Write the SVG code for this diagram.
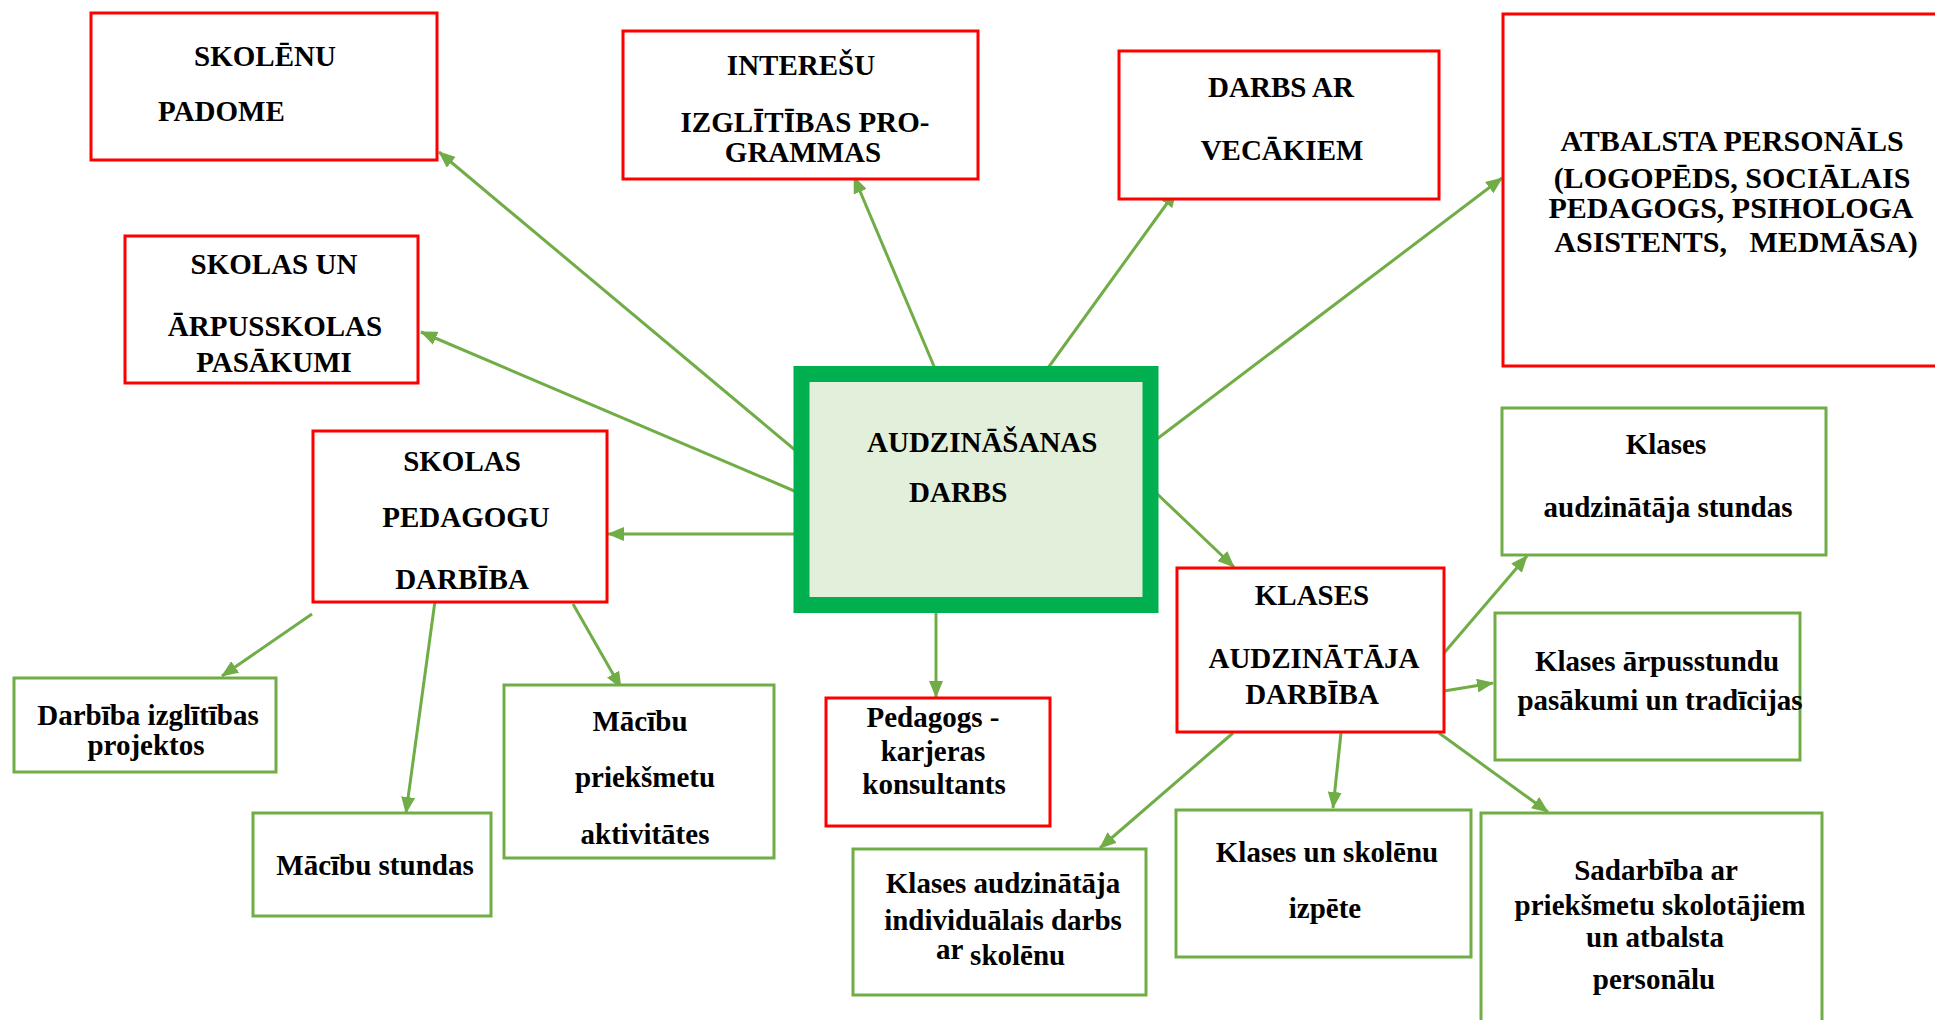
<svg xmlns="http://www.w3.org/2000/svg" width="1935" height="1020" viewBox="0 0 1935 1020">
<defs>
<marker id="ah" markerUnits="userSpaceOnUse" markerWidth="17" markerHeight="14" refX="16" refY="7" orient="auto">
<path d="M0,0 L17,7 L0,14 z" fill="#70ad47"/>
</marker>
<style>
.red{fill:#ffffff;stroke:#ff0000;stroke-width:3}
.grn{fill:#ffffff;stroke:#70ad47;stroke-width:3}
.t{font-family:"Liberation Serif","Times New Roman",serif;font-weight:bold;font-size:29px;fill:#000}
.big{font-size:30px}
.c{text-anchor:middle}
.ln{stroke:#70ad47;stroke-width:3;fill:none;marker-end:url(#ah)}
</style>
</defs>
<rect width="1935" height="1020" fill="#ffffff"/>

<g id="connectors">
<line class="ln" x1="801" y1="455" x2="439" y2="152"/>
<line class="ln" x1="799" y1="493" x2="421" y2="332"/>
<line class="ln" x1="798" y1="534" x2="608" y2="534"/>
<line class="ln" x1="936" y1="371" x2="854" y2="177"/>
<line class="ln" x1="1040" y1="379" x2="1176" y2="191"/>
<line class="ln" x1="1153" y1="442" x2="1502" y2="178"/>
<line class="ln" x1="1152" y1="489" x2="1234" y2="567"/>
<line class="ln" x1="936" y1="613" x2="936" y2="697"/>
<line class="ln" x1="312" y1="614" x2="222" y2="676"/>
<line class="ln" x1="435" y1="601" x2="406" y2="813"/>
<line class="ln" x1="573" y1="604" x2="621" y2="688"/>
<line class="ln" x1="1444" y1="653" x2="1527" y2="556"/>
<line class="ln" x1="1444" y1="691" x2="1493" y2="683"/>
<line class="ln" x1="1439" y1="733" x2="1548" y2="812"/>
<line class="ln" x1="1233" y1="733" x2="1100" y2="848"/>
<line class="ln" x1="1341" y1="733" x2="1333" y2="808"/>
</g>

<g id="n-skolenu-padome">
<rect class="red" x="91" y="13" width="346" height="147"/>
<text class="t c" x="265" y="66">SKOLĒNU</text>
<text class="t" x="158" y="121">PADOME</text>
</g>

<g id="n-interesu">
<rect class="red" x="623" y="31" width="355" height="148"/>
<text class="t c" x="801" y="75">INTEREŠU</text>
<text class="t c" x="805" y="132">IZGLĪTĪBAS PRO-</text>
<text class="t c" x="803" y="162">GRAMMAS</text>
</g>

<g id="n-darbs-ar-vecakiem">
<rect class="red" x="1119" y="51" width="320" height="148"/>
<text class="t c" x="1281" y="97">DARBS AR</text>
<text class="t c" x="1282" y="160">VECĀKIEM</text>
</g>

<g id="n-atbalsta">
<rect class="red" x="1503" y="14" width="440" height="352"/>
<text class="t big c" x="1732" y="151">ATBALSTA PERSONĀLS</text>
<text class="t big c" x="1732" y="188">(LOGOPĒDS, SOCIĀLAIS</text>
<text class="t big c" x="1731" y="218">PEDAGOGS, PSIHOLOGA</text>
<text class="t big c" x="1736" y="252" xml:space="preserve">ASISTENTS,   MEDMĀSA)</text>
</g>

<g id="n-skolas-un-arpusskolas">
<rect class="red" x="125" y="236" width="293" height="147"/>
<text class="t c" x="274" y="274">SKOLAS UN</text>
<text class="t c" x="275" y="336">ĀRPUSSKOLAS</text>
<text class="t c" x="274" y="372">PASĀKUMI</text>
</g>

<g id="n-skolas-pedagogu">
<rect class="red" x="313" y="431" width="294" height="171"/>
<text class="t c" x="462" y="471">SKOLAS</text>
<text class="t c" x="466" y="527">PEDAGOGU</text>
<text class="t c" x="462" y="589">DARBĪBA</text>
</g>

<g id="n-audzinasanas-darbs">
<rect x="801.5" y="374" width="349" height="231" fill="#e2efda" stroke="#00b050" stroke-width="16"/>
<text class="t" x="867" y="452">AUDZINĀŠANAS</text>
<text class="t" x="909" y="502">DARBS</text>
</g>

<g id="n-klases-audzinataja-darbiba">
<rect class="red" x="1177" y="568" width="267" height="164"/>
<text class="t c" x="1312" y="605">KLASES</text>
<text class="t c" x="1314" y="668">AUDZINĀTĀJA</text>
<text class="t c" x="1312" y="704">DARBĪBA</text>
</g>

<g id="n-pedagogs-karjeras">
<rect class="red" x="826" y="698" width="224" height="128"/>
<text class="t c" x="933" y="727">Pedagogs -</text>
<text class="t c" x="933" y="761">karjeras</text>
<text class="t c" x="934" y="794">konsultants</text>
</g>

<g id="n-darbiba-projektos">
<rect class="grn" x="14" y="678" width="262" height="94"/>
<text class="t c" x="148" y="725">Darbība izglītības</text>
<text class="t c" x="146" y="755">projektos</text>
</g>

<g id="n-macibu-stundas">
<rect class="grn" x="253" y="813" width="238" height="103"/>
<text class="t c" x="375" y="875">Mācību stundas</text>
</g>

<g id="n-macibu-prieksmetu">
<rect class="grn" x="504" y="685" width="270" height="173"/>
<text class="t c" x="640" y="731">Mācību</text>
<text class="t c" x="645" y="787">priekšmetu</text>
<text class="t c" x="645" y="844">aktivitātes</text>
</g>

<g id="n-klases-audz-stundas">
<rect class="grn" x="1502" y="408" width="324" height="147"/>
<text class="t c" x="1666" y="454">Klases</text>
<text class="t c" x="1668" y="517">audzinātāja stundas</text>
</g>

<g id="n-klases-arpusstundu">
<rect class="grn" x="1495" y="613" width="305" height="147"/>
<text class="t c" x="1657" y="671">Klases ārpusstundu</text>
<text class="t c" x="1660" y="710">pasākumi un tradīcijas</text>
</g>

<g id="n-sadarbiba">
<rect class="grn" x="1481" y="813" width="341" height="230"/>
<text class="t c" x="1656" y="880">Sadarbība ar</text>
<text class="t c" x="1660" y="915">priekšmetu skolotājiem</text>
<text class="t c" x="1655" y="947">un atbalsta</text>
<text class="t c" x="1654" y="989">personālu</text>
</g>

<g id="n-individualais">
<rect class="grn" x="853" y="849" width="293" height="146"/>
<text class="t c" x="1003" y="893">Klases audzinātāja</text>
<text class="t c" x="1003" y="930">individuālais darbs</text>
<text class="t" x="936" y="959">ar <tspan dy="6">skolēnu</tspan></text>
</g>

<g id="n-izpete">
<rect class="grn" x="1176" y="810" width="295" height="147"/>
<text class="t c" x="1327" y="862">Klases un skolēnu</text>
<text class="t c" x="1325" y="918">izpēte</text>
</g>
</svg>
